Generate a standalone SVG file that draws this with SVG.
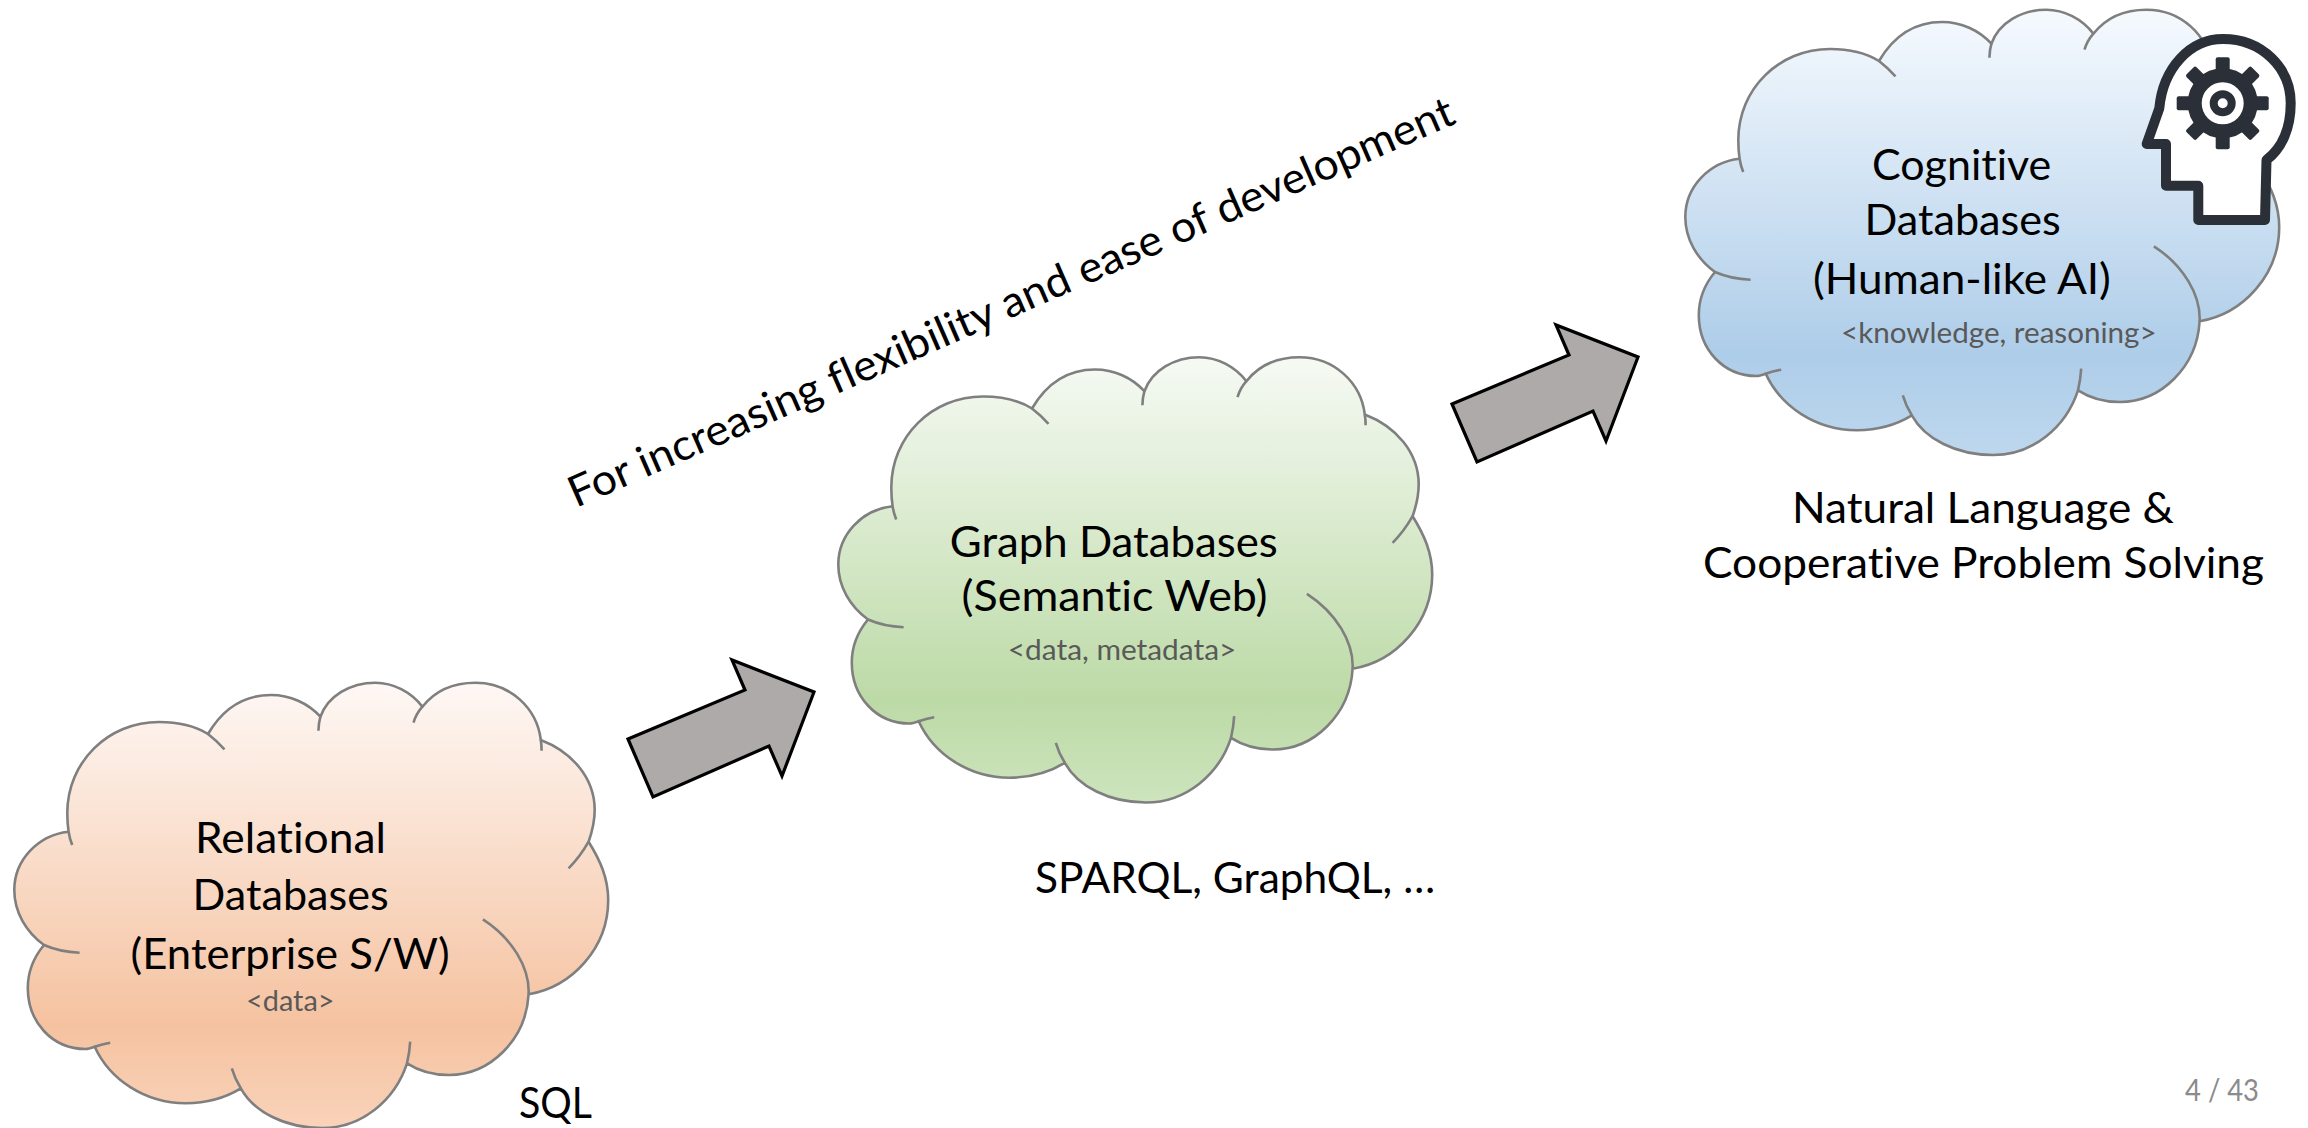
<svg xmlns="http://www.w3.org/2000/svg" xmlns:xlink="http://www.w3.org/1999/xlink" width="2308" height="1128" viewBox="0 0 2308 1128">
<style>
text{font-family:"Lato","Liberation Sans",sans-serif;fill:#000;font-size:43px;font-variant-ligatures:none}
.sm{font-size:28px;fill:#595959}
.pg{font-size:30px;fill:#8b8b8b}
.cl{stroke:#7f7f7f;stroke-width:2.6;stroke-linejoin:round}
.in{fill:none;stroke:#7f7f7f;stroke-width:2.6;stroke-linecap:butt}
.ar{fill:#aeaaaa;stroke:#000;stroke-width:3.2;stroke-linejoin:miter}
.ic{stroke:#2b3038;fill:none}
</style>
<defs>
<linearGradient id="gO" x1="0" y1="0" x2="0" y2="1"><stop offset="0" stop-color="#fef8f5"/><stop offset=".77" stop-color="#f5c2a0"/><stop offset="1" stop-color="#f9d3ba"/></linearGradient>
<linearGradient id="gG" x1="0" y1="0" x2="0" y2="1"><stop offset="0" stop-color="#f6faf4"/><stop offset=".77" stop-color="#bcdaa6"/><stop offset="1" stop-color="#cde4bd"/></linearGradient>
<linearGradient id="gB" x1="0" y1="0" x2="0" y2="1"><stop offset="0" stop-color="#f6fafe"/><stop offset=".77" stop-color="#aecde9"/><stop offset="1" stop-color="#bdd7ee"/></linearGradient>
<path id="cloud" class="cl" d="M208,734 C225,705 248,695 271,695 C290,695 308,703 320.4,716.7 C328,696 350,682.7 375.5,682.7 C393,682.7 411,692 422.4,706.7 C434,692 452,682.7 475.5,682.7 C510,682.7 537,708 540.8,740 C572,752 594.7,778 594.7,810 C594.7,822 592,832 588.6,841.7 C600,860 608.2,878 608.2,900 C608.2,948 572,987 528.6,994.3 C526,1040 490,1075 449,1075 C433,1075 419,1071 407,1063.3 C395,1100 362,1128 322,1128 C285,1128 254,1112 240.8,1088.3 C225,1098 206,1103 185.7,1103.3 C145,1103 110,1080 94.7,1046.7 C91,1048 88,1049 85.7,1049 C52,1049 27.8,1022 27.8,988 C27.8,972 34,957 44,945 C26,932 14.3,912 14.3,890 C14.3,860 38,835 68.6,831.7 C67.5,825 67.3,819 67.3,813 C67.3,762 108,722 159,722 C178,722 195,726 208,734 Z"/>
<path id="folds" class="in" d="M208,734 Q217,741 224.5,749.3 M320.4,716.7 Q318.6,723 318.4,730.7 M422.4,706.7 Q416,714 413.5,722.7 M540.8,740 Q541.6,745 541.6,750.7 M588.6,841.7 Q580,857 568.6,868.3 M482.9,919.3 C512,938 530,968 528.6,994.3 M410.2,1041.7 Q409.5,1053 407,1063.3 M231.8,1068.3 Q235,1079 240.8,1088.3 M110.2,1042.7 Q102,1044 94.7,1046.7 M79.6,952.7 Q60,952 44,945 M72.2,845 Q69.5,838 68.6,831.7"/>
<g id="cloudShape"><use xlink:href="#cloud" href="#cloud"/><use xlink:href="#folds" href="#folds"/></g>
</defs>

<g id="connectors">
<polygon class="ar" points="628,739 745,690 732,660 814,692 782,776 769,746 653,797"/>
<polygon class="ar" points="1452,404 1569,355 1556,325 1638,357 1606,441 1593,411 1477,462"/>
</g>

<g id="node-relational">
<use href="#cloudShape" fill="url(#gO)"/>
<text x="195" y="853" textLength="191" lengthAdjust="spacingAndGlyphs">Relational</text>
<text x="192.6" y="910" textLength="196" lengthAdjust="spacingAndGlyphs">Databases</text>
<text x="130.6" y="968.5" textLength="319" lengthAdjust="spacingAndGlyphs">(Enterprise S/W)</text>
<text class="sm" x="246" y="1011" textLength="88.6" lengthAdjust="spacingAndGlyphs">&lt;data&gt;</text>
</g>

<g id="node-graph">
<use href="#cloudShape" transform="translate(824,-325.5)" fill="url(#gG)"/>
<text x="949.8" y="556.7" textLength="328" lengthAdjust="spacingAndGlyphs">Graph Databases</text>
<text x="961.6" y="610.7" textLength="306" lengthAdjust="spacingAndGlyphs">(Semantic Web)</text>
<text class="sm" x="1007.8" y="660" textLength="228.5" lengthAdjust="spacingAndGlyphs">&lt;data, metadata&gt;</text>
</g>

<g id="node-cognitive">
<use href="#cloudShape" transform="translate(1671,-673)" fill="url(#gB)"/>
<text x="1872" y="180" textLength="179.3" lengthAdjust="spacingAndGlyphs">Cognitive</text>
<text x="1864.5" y="235" textLength="196.3" lengthAdjust="spacingAndGlyphs">Databases</text>
<text x="1812.9" y="294.3" textLength="298" lengthAdjust="spacingAndGlyphs">(Human-like AI)</text>
<text class="sm" x="1841" y="343" textLength="315.7" lengthAdjust="spacingAndGlyphs">&lt;knowledge, reasoning&gt;</text>
</g>

<g id="node-head-icon">
<path class="ic" style="fill:#fff" stroke-width="10" stroke-linejoin="round" d="M2146.7,144 L2159.3,108.3 C2163,68 2190,39 2223,39 C2262,39 2290.7,68 2290.7,103.3 C2290.7,128 2282,148 2266.5,160 L2265,220 L2198.3,220 L2198.3,185.7 L2166,185.7 L2166,144 Z"/>
<g transform="translate(2222.7,103.3)">
<circle class="ic" r="28" stroke-width="14"/>
<g fill="#2b3038">
<rect x="-7" y="-46" width="14" height="20" rx="2"/>
<rect x="-7" y="-46" width="14" height="20" rx="2" transform="rotate(45)"/>
<rect x="-7" y="-46" width="14" height="20" rx="2" transform="rotate(90)"/>
<rect x="-7" y="-46" width="14" height="20" rx="2" transform="rotate(135)"/>
<rect x="-7" y="-46" width="14" height="20" rx="2" transform="rotate(180)"/>
<rect x="-7" y="-46" width="14" height="20" rx="2" transform="rotate(225)"/>
<rect x="-7" y="-46" width="14" height="20" rx="2" transform="rotate(270)"/>
<rect x="-7" y="-46" width="14" height="20" rx="2" transform="rotate(315)"/>
</g>
<circle class="ic" r="9" stroke-width="8"/>
</g>
</g>

<g id="labels">
<text transform="translate(576,508) rotate(-23.6)" x="0" y="0" textLength="962" lengthAdjust="spacingAndGlyphs">For increasing flexibility and ease of development</text>
<text x="519" y="1118" textLength="73" lengthAdjust="spacingAndGlyphs">SQL</text>
<text x="1035" y="893" textLength="400" lengthAdjust="spacingAndGlyphs">SPARQL, GraphQL, …</text>
<text x="1792" y="522.7" textLength="382" lengthAdjust="spacingAndGlyphs">Natural Language &amp;</text>
<text x="1703" y="578" textLength="561" lengthAdjust="spacingAndGlyphs">Cooperative Problem Solving</text>
<text class="pg" x="2185" y="1100.7" textLength="74" lengthAdjust="spacingAndGlyphs">4 / 43</text>
</g>
</svg>
